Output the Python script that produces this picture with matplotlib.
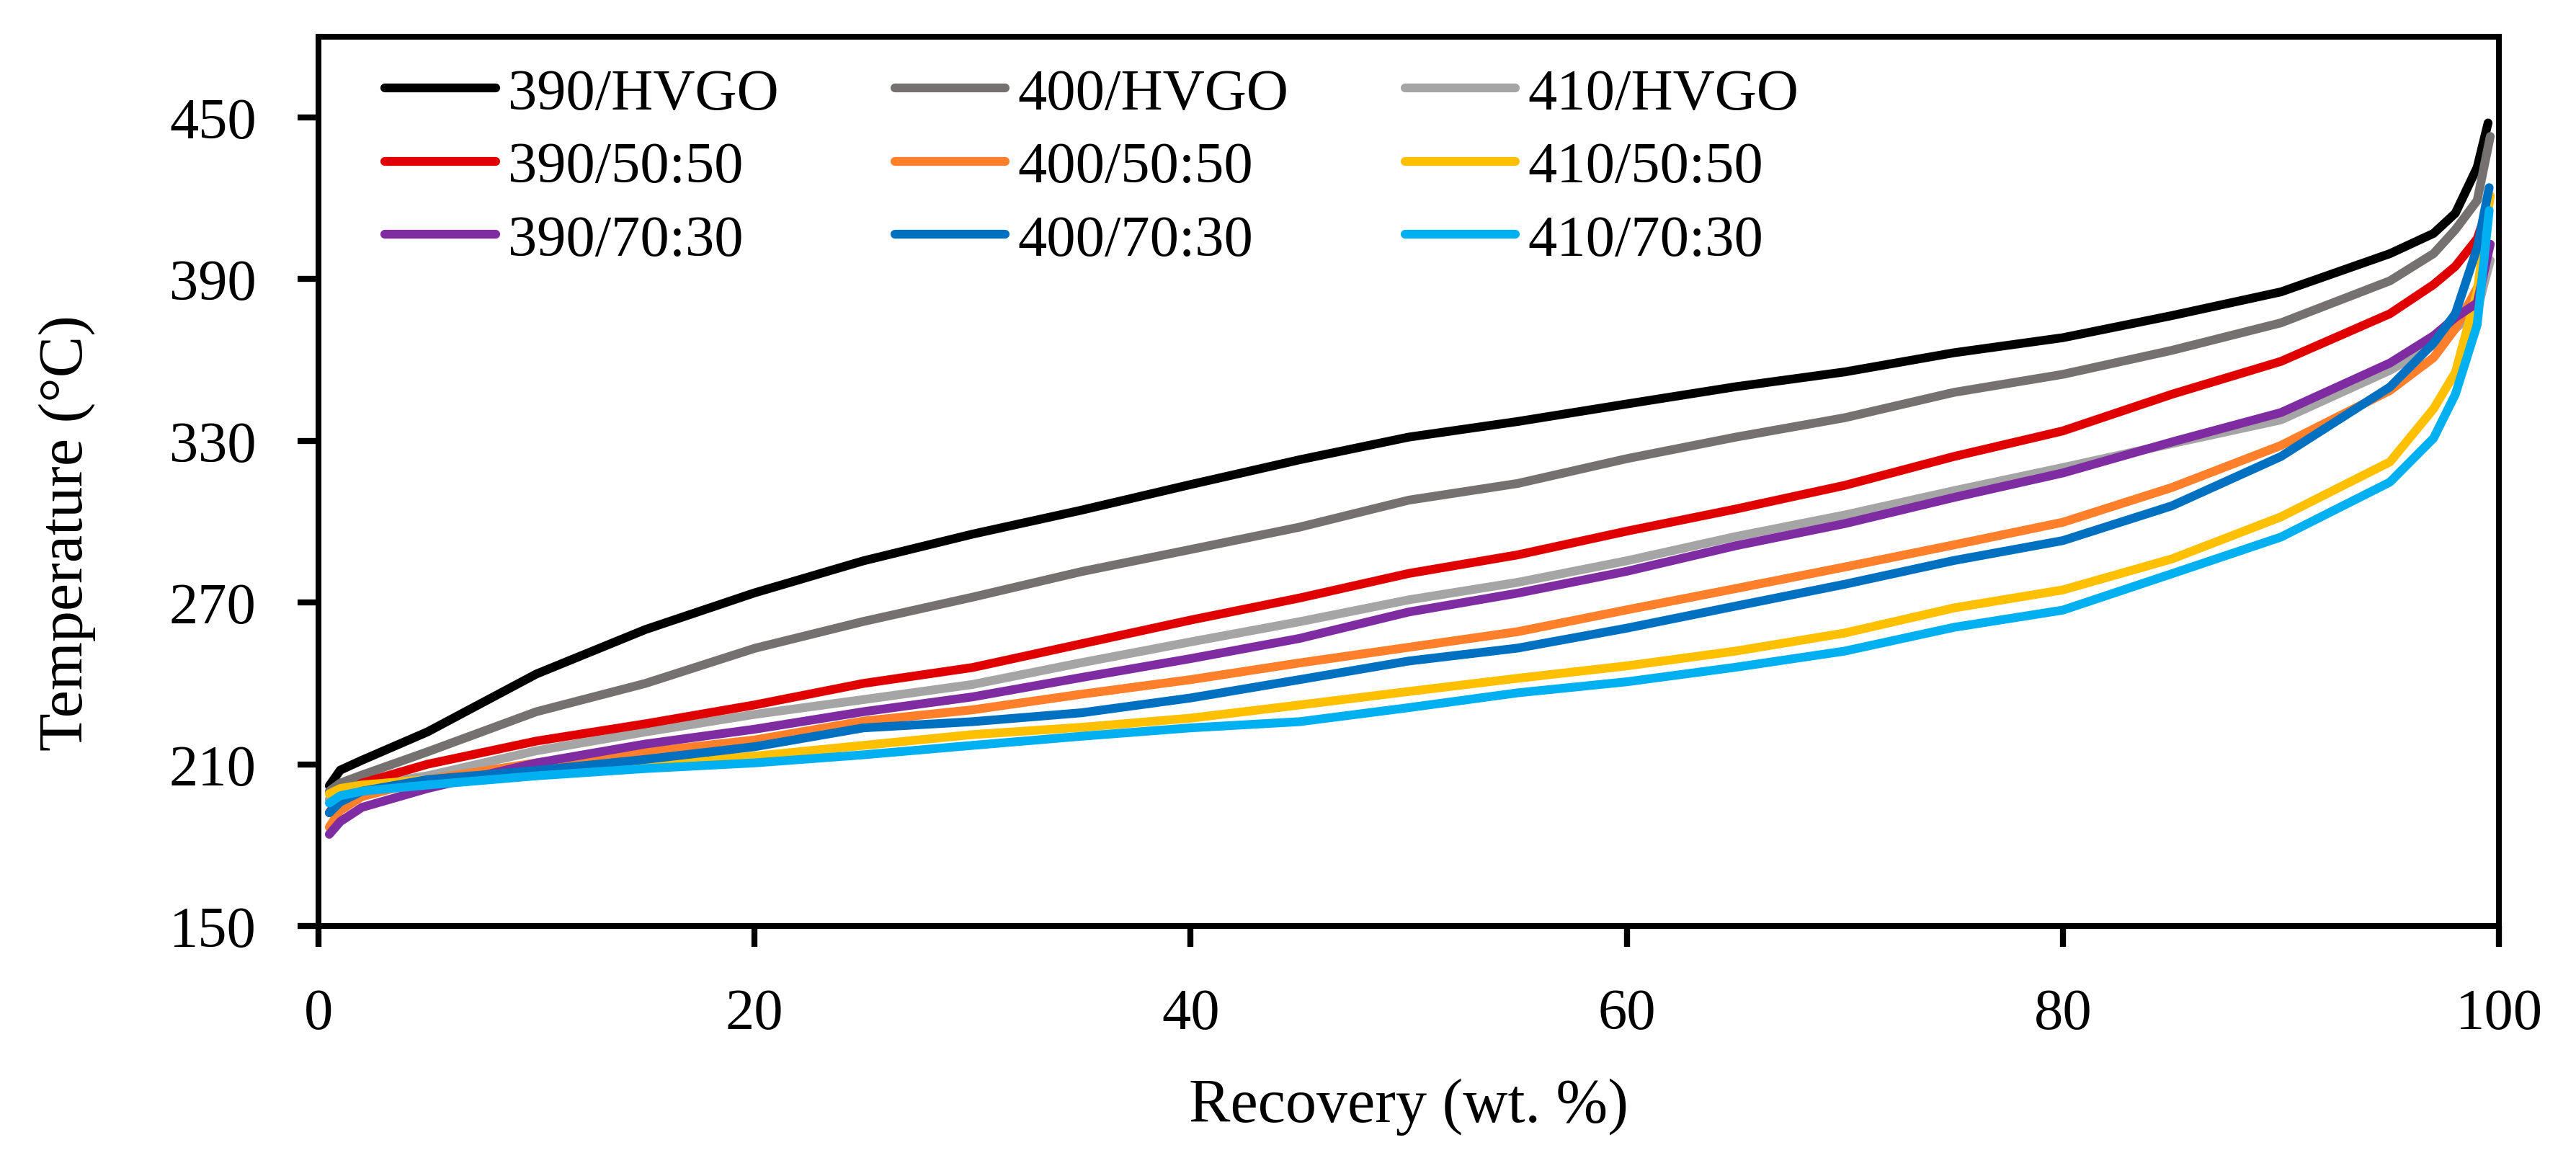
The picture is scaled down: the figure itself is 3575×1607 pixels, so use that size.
import numpy as np
import matplotlib.pyplot as plt

plt.rcParams['font.family'] = ['Liberation Serif', 'DejaVu Serif']

# recovery (wt. %) and boiling temperature (C)
x_main = [0.5, 1, 2, 5, 10, 15, 20, 25, 30, 35, 40, 45, 50, 55, 60, 65, 70, 75, 80, 85, 90, 95, 97, 98, 99]

t_390_hvgo = [202, 207.8, 211.5, 222, 243.5, 260, 273.6, 285.5, 295.4, 304.3, 313.8, 323, 331.4, 337.2, 343.7,
              350.1, 355.6, 362.7, 368.3, 376.5, 385.3, 399.5, 407, 414.5, 431.5, 448]
t_400_hvgo = [200, 203, 206, 214.6, 229.5, 240, 253, 263, 272, 281.5, 289.7, 298, 308, 314.2, 323.4,
              331.4, 338.6, 348, 354.7, 363.6, 373.8, 389.4, 399.5, 408.4, 419.2, 443]
t_410_hvgo = [197, 199.5, 202, 205.7, 215, 222, 228.5, 234, 239.6, 247.7, 255.4, 262.9, 271, 277.5, 285.5,
              294.5, 302.5, 311.5, 320.1, 329, 337.8, 356.2, 365.6, 371.7, 378.5, 397]
t_390_5050 = [192, 198, 203, 210, 218.6, 225, 232, 240, 245.9, 254.7, 263.5, 271.7, 280.8, 287.7, 296.5,
              304.7, 313.5, 324.2, 333.7, 347.3, 359.5, 377.2, 388, 394.8, 405, 412]
t_400_5050 = [186.7, 192.8, 198, 204.3, 210.5, 214.5, 219, 226, 230.2, 236, 241.4, 247.6, 253.4, 259.2, 267.3,
              275.2, 283.2, 291.4, 299.8, 312.7, 328.3, 348.7, 360.9, 371.7, 386.7, 396]
t_410_5050 = [199, 201, 202.3, 204.3, 207, 209.8, 213, 217, 221, 223.7, 227.1, 232, 237, 241.9, 246.5,
              252, 258.7, 268, 274.7, 286.2, 301.8, 322.2, 341.9, 355.4, 385.3, 421]
t_390_7030 = [184, 188.7, 194, 201, 210.5, 217.5, 223, 229.5, 235, 242.2, 249.2, 256.7, 266.5, 273.5, 281.6,
              291.1, 299.3, 309, 318.1, 329.6, 340.5, 358.9, 369, 375.8, 381.2, 403]
t_400_7030 = [192, 196, 200, 204.3, 207.7, 211.8, 216.5, 223.5, 225.8, 229.1, 234.6, 241.4, 248.3, 253.1, 260.5,
              268.7, 276.8, 285.6, 293, 305.9, 324.2, 350, 366.3, 377.2, 401.6, 424]
t_410_7030 = [195.6, 198.3, 200, 202.3, 205.7, 208.4, 210.5, 213.5, 217, 220.4, 223.5, 225.8, 231, 236.5, 240.6,
              246, 252, 260.8, 267.2, 280.7, 294.3, 314.7, 331, 347.3, 373.1, 415.5]

# recovery at the final boiling point, one per curve (same order as below)
x_end = [99.5, 99.6, 99.6, 99.3, 99.4, 99.6, 99.6, 99.55, 99.55]

# series order = legend reading order (later ones drawn on top)
labels = ['390/HVGO', '400/HVGO', '410/HVGO',
          '390/50:50', '400/50:50', '410/50:50',
          '390/70:30', '400/70:30', '410/70:30']
series = [t_390_hvgo, t_400_hvgo, t_410_hvgo,
          t_390_5050, t_400_5050, t_410_5050,
          t_390_7030, t_400_7030, t_410_7030]
colors = ['#000000', '#767171', '#A5A5A5',
          '#E00000', '#FF7F2A', '#FFC000',
          '#7F2CA3', '#0070C0', '#00B0F0']

fig = plt.figure(figsize=(35.75, 16.08), dpi=100)
ax = fig.add_axes([0.1236, 0.2003, 0.8465, 0.7674])

lines = []
for i in range(len(series)):
    ln, = ax.plot(x_main + [x_end[i]], series[i], color=colors[i], lw=8.8,
                  solid_capstyle='round', solid_joinstyle='round', label=labels[i])
    lines.append(ln)

ax.set_xlim(0, 100)
ax.set_ylim(150, 480)
ax.set_xticks(np.arange(0, 101, 20))
ax.set_yticks(np.arange(150, 451, 60))

for s in ax.spines.values():
    s.set_linewidth(5.8)
ax.tick_params(direction='out', length=21, width=6, labelsize=58, pad=41)

ax.set_xlabel('Recovery (wt. %)', fontsize=62)
ax.set_ylabel('Temperature (°C)', fontsize=62)
ax.xaxis.set_label_coords(0.5, -0.171)
ax.yaxis.set_label_coords(-0.102, 0.4425)

# legend is filled column by column, so hand it the entries grouped by temperature
col_order = [0, 3, 6, 1, 4, 7, 2, 5, 8]
leg = ax.legend([lines[i] for i in col_order], [labels[i] for i in col_order], ncol=3,
                loc='upper left', bbox_to_anchor=(0.0306, 0.965), frameon=False, fontsize=58,
                handlelength=1.9, handletextpad=0.22, columnspacing=2.0,
                labelspacing=0.35, borderpad=0, borderaxespad=0)

fig.savefig('out.png', dpi=100)
